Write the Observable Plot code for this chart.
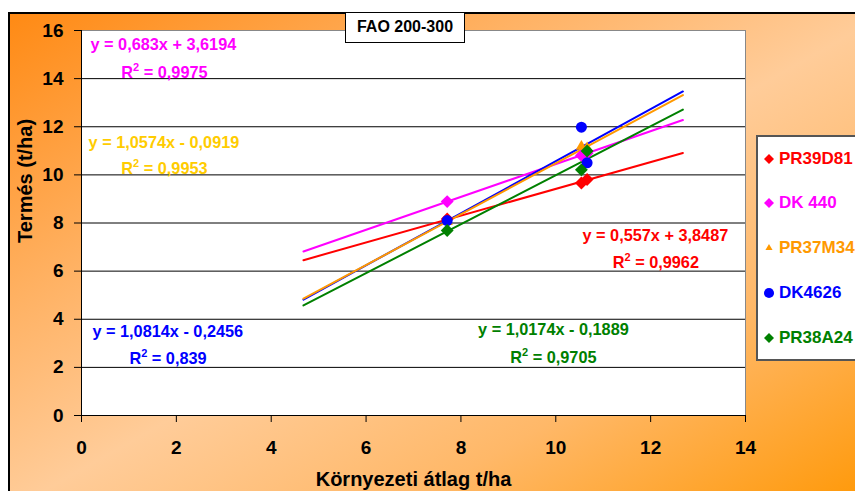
<!DOCTYPE html>
<html>
<head>
<meta charset="utf-8">
<script src="https://cdn.jsdelivr.net/npm/d3@7"></script>
<script src="https://cdn.jsdelivr.net/npm/@observablehq/plot@0.6"></script>
<style>
  html, body { margin: 0; padding: 0; background: #fff; overflow: hidden; }
  #wrap {
    position: relative; width: 855px; height: 491px; overflow: hidden;
    font-family: "Liberation Sans", Arial, Helvetica, sans-serif; font-weight: bold;
  }
  #bg {
    position: absolute; left: 8px; top: 12px; width: 880px; height: 500px;
    box-sizing: border-box; border: 2px solid #000;
    background: linear-gradient(to bottom right, #ff8a14 0%, #ffb060 28%, #ffcc99 50%, #ffb868 72%, #ff9600 100%);
  }
  #chart { position: absolute; left: 0; top: 0; }
  #title {
    position: absolute; left: 345px; top: 12px; width: 120px; height: 31px;
    box-sizing: border-box; border: 1.5px solid #000; background: #fff;
    font-size: 16px; line-height: 28px; text-align: center; color: #000;
  }
  #legend {
    position: absolute; left: 756px; top: 135px; width: 130px; height: 226px;
    box-sizing: border-box; border: 2px solid #555; background: #fff;
  }
  #legend .row { position: absolute; left: 0; height: 20px; line-height: 20px; font-size: 17px; white-space: nowrap; }
  #legend svg { position: absolute; left: 5px; top: 4px; }
  #legend span { position: absolute; left: 21px; top: 0; }
</style>
</head>
<body>
<div id="wrap">
  <div id="bg"></div>
  <div id="chart"></div>
  <div id="title"></div>
  <div id="legend"></div>
</div>
<script>
// Hybrids of the FAO 200-300 maturity group
const hybrids = ["PR39D81", "DK 440", "PR37M34", "DK4626", "PR38A24"];
const lineColors = ["#ff0000", "#ff00ff", "#ff9900", "#0000ff", "#008000"];
const equationColors = ["#ff0000", "#ff00ff", "#ffcc00", "#0000ff", "#008000"];
const symbols = ["diamond2", "diamond2", "triangle", "circle", "diamond2"];

// Environment means (x) and yields per hybrid (t/ha)
const envMeans = [7.71, 10.54, 10.66];
const yieldPR39D81 = [8.17, 9.66, 9.81];
const yieldDK440 = [8.89, 10.81, 10.90];
const yieldPR37M34 = [8.05, 11.18, 11.12];
const yieldDK4626 = [8.10, 11.98, 10.50];
const yieldPR38A24 = [7.69, 10.21, 10.99];

// Linear trend coefficients and R² values
const slopes = [0.557, 0.683, 1.0574, 1.0814, 1.0174];
const intercepts = [3.8487, 3.6194, -0.0919, -0.2456, -0.1889];
const rSquared = [0.9962, 0.9975, 0.9953, 0.839, 0.9705];
const trendRange = [4.68, 12.68];

// Axis ticks and titles
const xTicks = [0, 2, 4, 6, 8, 10, 12, 14];
const yTicks = [0, 2, 4, 6, 8, 10, 12, 14, 16];
const chartTitle = "FAO 200-300";
const xTitle = "Környezeti átlag t/ha";
const yTitle = "Termés (t/ha)";

const yields = [yieldPR39D81, yieldDK440, yieldPR37M34, yieldDK4626, yieldPR38A24];

// Where each hybrid's equation and R² are written (data units)
const labelLayout = [
  {eq: [12.10, 7.48], r2: [12.11, 6.36], anchor: "middle"},
  {eq: [0.19, 15.42], r2: [0.84, 14.26], anchor: "start"},
  {eq: [0.15, 11.35], r2: [0.84, 10.27], anchor: "start"},
  {eq: [0.23, 3.49], r2: [1.01, 2.37], anchor: "start"},
  {eq: [9.95, 3.57], r2: [9.95, 2.41], anchor: "middle"}
];

// Trend lines are stacked in this order (last on top)
const lineOrder = [0, 1, 3, 2, 4];

const font = "'Liberation Sans', Arial, Helvetica, sans-serif";
const dec = (v) => String(v).replace(".", ",");

const points = hybrids.flatMap((h, i) => envMeans.map((x, j) => ({hybrid: h, i, x, y: yields[i][j]})));
const trends = lineOrder.flatMap((i) => trendRange.map((x) => ({hybrid: hybrids[i], i, x, y: slopes[i] * x + intercepts[i]})));
const labels = hybrids.flatMap((h, i) => {
  const L = labelLayout[i];
  const sign = intercepts[i] < 0 ? "-" : "+";
  return [
    {i, anchor: L.anchor, x: L.eq[0], y: L.eq[1], text: `y = ${dec(slopes[i])}x ${sign} ${dec(Math.abs(intercepts[i]))}`},
    {i, anchor: L.anchor, x: L.r2[0], y: L.r2[1], text: `R2 = ${dec(rSquared[i])}`}
  ];
});

const textMark = (anchor) => Plot.text(labels.filter((d) => d.anchor === anchor), {
  x: "x", y: "y", text: "text", fill: (d) => equationColors[d.i],
  textAnchor: anchor, lineAnchor: "middle", fontSize: 16.3, fontWeight: "bold", fontFamily: font
});

const plot = Plot.plot({
  width: 855,
  height: 491,
  marginLeft: 81,
  marginRight: 110,
  marginTop: 30,
  marginBottom: 76,
  style: {background: "transparent", fontFamily: font, fontWeight: "bold", fontSize: "19px", color: "#000", overflow: "visible"},
  x: {domain: [0, 14]},
  y: {domain: [0, 16]},
  marks: [
    Plot.frame({fill: "#fff", stroke: "#888"}),
    Plot.ruleY(yTicks.filter((d) => d > 0 && d < 16), {stroke: "#000", strokeWidth: 1}),
    Plot.ruleX([0], {stroke: "#000"}),
    Plot.ruleY([0], {stroke: "#000"}),
    Plot.axisX({ticks: xTicks, tickSize: 7, tickPadding: 18, fontSize: 19, fontWeight: "bold", label: null, tickFormat: (d) => d}),
    Plot.axisY({ticks: yTicks, tickSize: 7, tickPadding: 11, fontSize: 19, fontWeight: "bold", label: null, tickFormat: (d) => d}),
    Plot.line(trends, {x: "x", y: "y", z: "hybrid", stroke: (d) => lineColors[d.i], strokeWidth: 2}),
    ...hybrids.map((h, i) => Plot.dot(points.filter((d) => d.i === i), {
      x: "x", y: "y", symbol: () => symbols[i], fill: lineColors[i], stroke: "none",
      r: symbols[i] === "triangle" ? 4.2 : symbols[i] === "circle" ? 5.5 : 5.8
    })),
    textMark("start"),
    textMark("middle"),
    Plot.text([xTitle], {frameAnchor: "bottom", dy: 70, lineAnchor: "bottom", fontSize: 20, fontWeight: "bold", fill: "#000"}),
    Plot.text([yTitle], {frameAnchor: "left", dx: -49.5, dy: 20, rotate: -90, lineAnchor: "bottom", fontSize: 20, fontWeight: "bold", fill: "#000"})
  ]
});

// Superscript the 2 in each R² label
d3.select(plot).selectAll("text")
  .filter(function () { return /^R2 = /.test(this.textContent); })
  .each(function () {
    const rest = this.textContent.slice(2);
    const t = d3.select(this).text(null);
    t.append("tspan").text("R");
    t.append("tspan").attr("dy", -7).attr("font-size", "11px").text("2");
    t.append("tspan").attr("dy", 7).text(rest);
  });

document.getElementById("chart").appendChild(plot);
document.getElementById("title").textContent = chartTitle;

// Legend
const legendRowsY = [159, 203, 248, 293, 338];
const legendSizes = {diamond2: 64, triangle: 22, circle: 80};
const symbolTypes = {diamond2: d3.symbolDiamond2, triangle: d3.symbolTriangle, circle: d3.symbolCircle};
const legend = d3.select("#legend");
hybrids.forEach((h, i) => {
  const row = legend.append("div").attr("class", "row").style("top", `${legendRowsY[i] - 135 - 2 - 10}px`);
  const s = row.append("svg").attr("width", 12).attr("height", 12);
  s.append("path")
    .attr("transform", "translate(6,6)")
    .attr("d", d3.symbol(symbolTypes[symbols[i]], legendSizes[symbols[i]])())
    .attr("fill", lineColors[i]);
  row.append("span").style("color", lineColors[i]).text(h);
});
</script>
</body>
</html>
